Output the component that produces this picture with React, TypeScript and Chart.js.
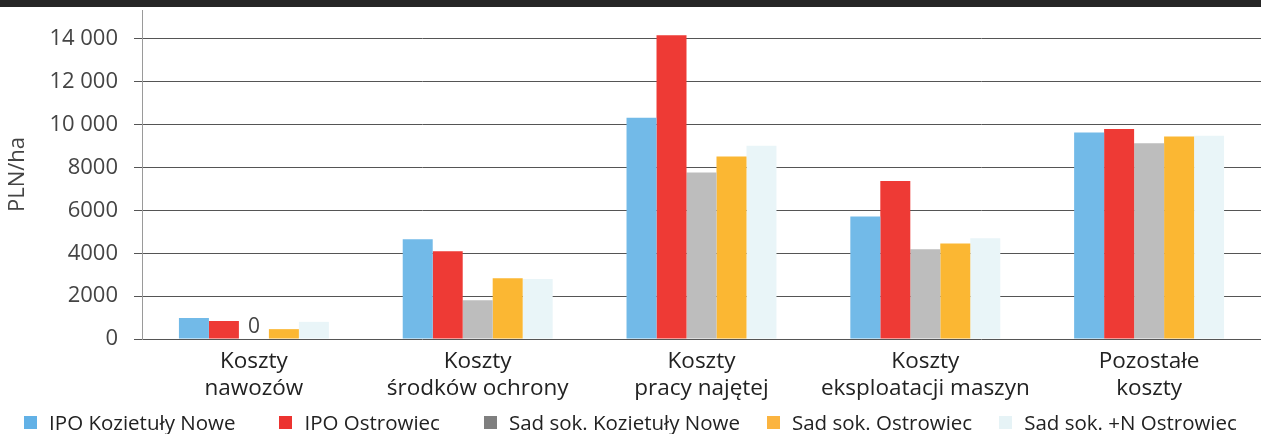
import React, { useEffect, useRef } from "react";
import { Chart, registerables } from "chart.js";

Chart.register(...registerables);

const categories: string[][] = [
  ["Koszty", "nawozów"],
  ["Koszty", "środków ochrony"],
  ["Koszty", "pracy najętej"],
  ["Koszty", "eksploatacji maszyn"],
  ["Pozostałe", "koszty"],
];

const seriesNames = [
  "IPO Kozietuły Nowe",
  "IPO Ostrowiec",
  "Sad sok. Kozietuły Nowe",
  "Sad sok. Ostrowiec",
  "Sad sok. +N Ostrowiec",
];

const ipoKozietuly = [980, 4650, 10320, 5720, 9640];
const ipoOstrowiec = [840, 4090, 14180, 7370, 9800];
const sadKozietuly = [0, 1810, 7770, 4185, 9130];
const sadOstrowiec = [460, 2840, 8520, 4460, 9450];
const sadNOstrowiec = [800, 2800, 9020, 4700, 9490];

const yTicks = [0, 2000, 4000, 6000, 8000, 10000, 12000, 14000];

const barColors = ["#72BAE8", "#EE3A35", "#BDBDBD", "#FBB733", "#E9F5F8"];
const legendColors = ["#62B1E6", "#EC3330", "#7F7F7F", "#FBB440", "#E6F3F6"];
const legendGaps = [0, 44, 44, 27, 27];

const FONT = "'Open Sans', 'Noto Sans', sans-serif";

const zeroLabelPlugin = {
  id: "zeroLabel",
  afterDatasetsDraw(chart: any) {
    const ctx = chart.ctx;
    ctx.save();
    ctx.font = `21px ${FONT}`;
    ctx.fillStyle = "#444";
    ctx.textAlign = "center";
    ctx.textBaseline = "bottom";
    chart.data.datasets.forEach((ds: any, di: number) => {
      const meta = chart.getDatasetMeta(di);
      ds.data.forEach((v: number, i: number) => {
        if (v === 0) {
          const el = meta.data[i];
          ctx.fillText("0", el.x, el.y - 1);
        }
      });
    });
    ctx.restore();
  },
};

function fmt(v: number): string {
  if (v >= 10000) {
    const s = String(v);
    return s.slice(0, s.length - 3) + " " + s.slice(s.length - 3);
  }
  return String(v);
}

export default function App() {
  const ref = useRef<HTMLCanvasElement | null>(null);

  useEffect(() => {
    document.body.style.margin = "0";
    const all = [ipoKozietuly, ipoOstrowiec, sadKozietuly, sadOstrowiec, sadNOstrowiec];
    const chart = new Chart(ref.current as HTMLCanvasElement, {
      type: "bar",
      data: {
        labels: categories,
        datasets: all.map((d, i) => ({
          label: seriesNames[i],
          data: d,
          backgroundColor: barColors[i],
          borderWidth: 0,
          barPercentage: 1,
          categoryPercentage: 0.67,
        })),
      },
      options: {
        animation: false,
        responsive: true,
        maintainAspectRatio: false,
        layout: { padding: { top: 10, left: 0, right: 0, bottom: 0 } },
        plugins: {
          tooltip: { enabled: false },
          legend: { display: false },
        },
        scales: {
          x: {
            grid: { display: false },
            border: { display: false },
            ticks: {
              color: "#222",
              padding: 2,
              font: { family: FONT, size: 22.5, weight: "500" as any, lineHeight: 1.16 },
              maxRotation: 0,
              autoSkip: false,
            },
            afterFit: (s: any) => {
              s.height = 95;
            },
          },
          y: {
            min: 0,
            max: 15353,
            afterBuildTicks: (s: any) => {
              s.ticks = yTicks.map((v) => ({ value: v }));
            },
            grid: { color: "#555", lineWidth: 1, tickLength: 8, drawTicks: true },
            border: { display: true, color: "#9a9a9a", width: 1 },
            ticks: {
              color: "#444",
              padding: 16,
              font: { family: FONT, size: 22 },
              callback: (v: any) => fmt(Number(v)),
            },
            title: {
              display: true,
              text: "PLN/ha",
              color: "#444",
              font: { family: FONT, size: 22 },
              padding: { top: 5, bottom: 0 },
            },
            afterFit: (s: any) => {
              s.width = 142;
              s.paddingTop = 0;
              s.paddingBottom = 0;
            },
          },
        },
      },
      plugins: [zeroLabelPlugin],
    });
    return () => chart.destroy();
  }, []);

  return (
    <div style={{ position: "relative", width: 1261, height: 434, background: "#fff", overflow: "hidden" }}>
      <canvas ref={ref} />
      <div style={{ position: "absolute", left: 0, top: 0, width: 1261, height: 7, background: "#262626" }} />
      <div
        style={{
          position: "absolute",
          left: 0,
          top: 408,
          width: 1261,
          display: "flex",
          justifyContent: "center",
          alignItems: "center",
          fontFamily: FONT,
          fontSize: 20.5,
          color: "#222",
          whiteSpace: "nowrap",
        }}
      >
        {seriesNames.map((n, i) => (
          <div key={n} style={{ display: "flex", alignItems: "center", marginLeft: legendGaps[i] }}>
            <span style={{ display: "inline-block", width: 13, height: 13, background: legendColors[i], marginRight: 12 }} />
            <span>{n}</span>
          </div>
        ))}
      </div>
    </div>
  );
}
